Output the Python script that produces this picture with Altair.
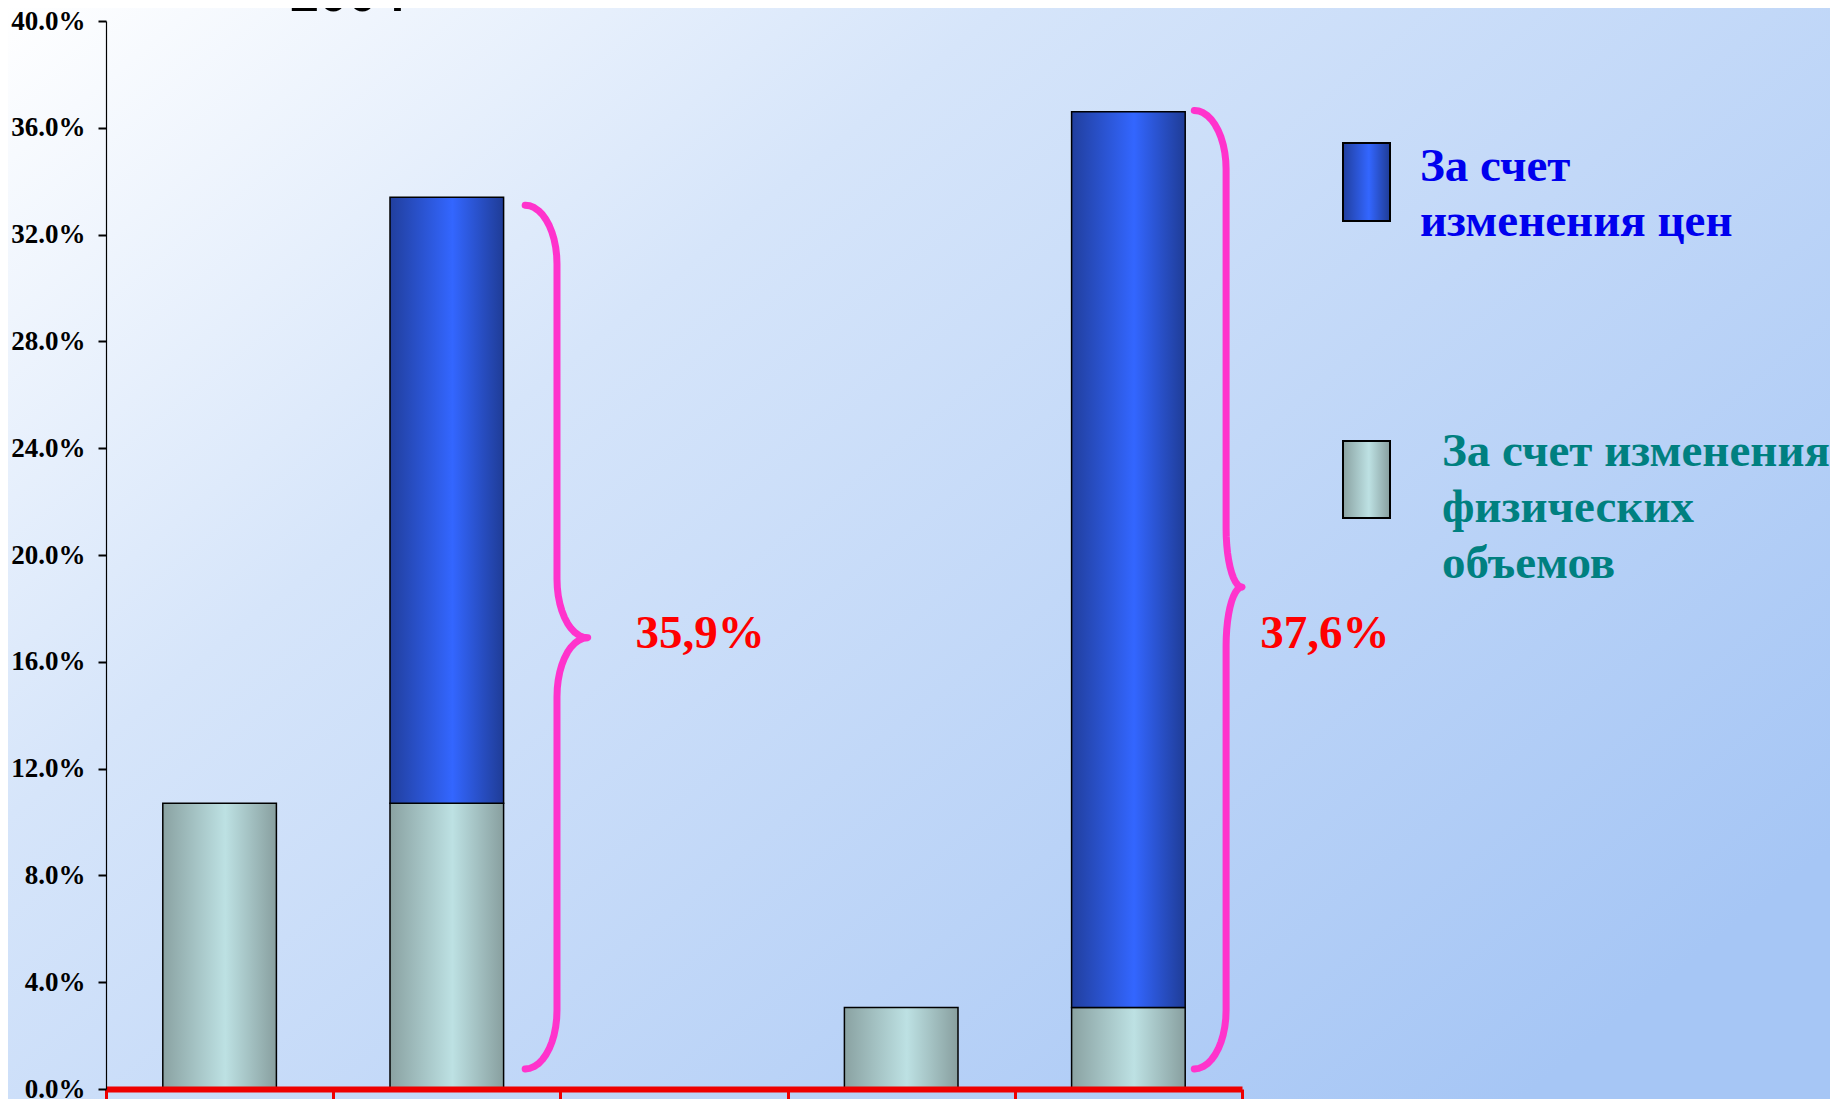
import altair as alt
import pandas as pd
import numpy as np

# ---- data ----
slots = [0, 1, 3, 4]                 # bar positions (slot 2 is empty)
physical = [10.7, 10.7, 3.05, 3.05]  # За счет изменения физических объемов
price_top = [None, 33.4, None, 36.6] # top of stacked bar (price part above physical)
y_ticks = [0, 4, 8, 12, 16, 20, 24, 28, 32, 36, 40]
x_ticks = [0, 1, 2, 3, 4, 5]

total_labels = ["35,9%", "37,6%"]
label_x = [2.33, 5.08]
label_y = [16.5, 16.5]

# braces: end x, vertical x, tip x, top, middle, bottom (data units)
brace_end = [1.845, 4.79]
brace_vert = [1.985, 4.93]
brace_tip = [2.12, 5.0]
brace_top = [33.1, 36.65]
brace_mid = [16.9, 18.8]
brace_bot = [0.75, 0.75]

legend_labels = [["За счет", "изменения цен"], ["За счет изменения", "физических", "объемов"]]
title_text = "2004"

W, H = 1136, 1068

green_grad = alt.LinearGradient(
    gradient="linear", x1=0, x2=1, y1=0, y2=0,
    stops=[alt.GradientStop(color="#8AA2A2", offset=0),
           alt.GradientStop(color="#BDE1E3", offset=0.55),
           alt.GradientStop(color="#889F9F", offset=1)])
blue_grad = alt.LinearGradient(
    gradient="linear", x1=0, x2=1, y1=0, y2=0,
    stops=[alt.GradientStop(color="#213F9E", offset=0),
           alt.GradientStop(color="#3366FF", offset=0.55),
           alt.GradientStop(color="#1F3C96", offset=1)])
bg_grad = alt.LinearGradient(
    gradient="linear", x1=0, x2=1, y1=0, y2=0.75,
    stops=[alt.GradientStop(color="#FFFFFF", offset=0),
           alt.GradientStop(color="#D6E5FA", offset=0.35),
           alt.GradientStop(color="#A6C6F5", offset=1)])

xscale = alt.Scale(domain=[0, 5], nice=False, zero=False)
yscale = alt.Scale(domain=[0, 40], nice=False)

bars_df = pd.DataFrame({"slot": slots, "phys": physical, "top": price_top})
bars_df["x0"] = bars_df["slot"] + 0.25
bars_df["x1"] = bars_df["slot"] + 0.75
bars_df["base"] = 0.0

# background
bg = alt.Chart(pd.DataFrame({"a": [0]})).mark_rect(color=bg_grad).encode(
    x=alt.value(-98), x2=alt.value(W + 600), y=alt.value(-20), y2=alt.value(H + 30))

x_axis = alt.Axis(values=x_ticks, labels=False, title=None, domainColor="#EE0000",
                  domainWidth=6, tickColor="#EE0000", tickWidth=3, tickSize=11,
                  grid=False, zindex=1)
y_axis = alt.Axis(values=y_ticks, title=None, grid=False, domainColor="#000000",
                  domainWidth=1.2, tickColor="#000000", tickWidth=2, tickSize=8,
                  labelExpr="format(datum.value, '.1f') + '%'",
                  labelFont="Liberation Serif", labelFontWeight="bold", labelFontSize=27,
                  labelColor="#000000", labelPadding=13, zindex=1)

green = alt.Chart(bars_df).mark_bar(color=green_grad, stroke="#000000", strokeWidth=1.5).encode(
    x=alt.X("x0:Q", scale=xscale, axis=x_axis),
    x2="x1:Q",
    y=alt.Y("base:Q", scale=yscale, axis=y_axis),
    y2="phys:Q")

blue = alt.Chart(bars_df.dropna()).mark_bar(color=blue_grad, stroke="#000000", strokeWidth=1.5).encode(
    x=alt.X("x0:Q", scale=xscale), x2="x1:Q",
    y=alt.Y("phys:Q", scale=yscale), y2="top:Q")

# braces
rows = []
ry = 2.2
for b in range(len(brace_end)):
    xe, xv, xt = brace_end[b], brace_vert[b], brace_tip[b]
    yt, ym, yb = brace_top[b], brace_mid[b], brace_bot[b]
    a = xv - xe
    c = xt - xv
    pts = []
    for t in np.linspace(0, np.pi / 2, 12):          # top hook
        pts.append((xe + a * np.sin(t), yt - ry + ry * np.cos(t)))
    for t in np.linspace(0, np.pi / 2, 12):          # into tip (upper half)
        pts.append((xt - c * np.cos(t), ym + ry - ry * np.sin(t)))
    for t in np.linspace(np.pi / 2, 0, 12):          # out of tip (lower half)
        pts.append((xt - c * np.cos(t), ym - ry + ry * np.sin(t)))
    for t in np.linspace(np.pi / 2, 0, 12):          # bottom hook
        pts.append((xe + a * np.sin(t), yb + ry - ry * np.cos(t)))
    for i, (px, py) in enumerate(pts):
        rows.append({"brace": b, "i": i, "bx": px, "by": py})
brace_df = pd.DataFrame(rows)

braces = alt.Chart(brace_df).mark_line(color="#FF33CC", strokeWidth=7, strokeCap="round",
                                       strokeJoin="round").encode(
    x=alt.X("bx:Q", scale=xscale), y=alt.Y("by:Q", scale=yscale),
    detail="brace:N", order="i:Q")

lab_df = pd.DataFrame({"t": total_labels, "lx": label_x, "ly": label_y})
labels = alt.Chart(lab_df).mark_text(align="left", baseline="alphabetic", color="#FF0000",
                                     font="Liberation Serif", fontWeight="bold", fontSize=47).encode(
    x=alt.X("lx:Q", scale=xscale), y=alt.Y("ly:Q", scale=yscale), text="t:N")

title = alt.Chart(pd.DataFrame({"t": [title_text], "tx": [1.065]})).mark_text(
    align="center", baseline="alphabetic", font="Liberation Sans", fontWeight="bold",
    fontSize=52, color="#000000").encode(
    x=alt.X("tx:Q", scale=xscale), y=alt.value(-10), text="t:N")

# legend
leg_blue = alt.Chart(pd.DataFrame({"k": ["price"]})).mark_rect(
    color=blue_grad, stroke="#000000", strokeWidth=2).encode(
    x=alt.value(1237), x2=alt.value(1284), y=alt.value(122), y2=alt.value(200))
leg_green = alt.Chart(pd.DataFrame({"k": ["phys"]})).mark_rect(
    color=green_grad, stroke="#000000", strokeWidth=2).encode(
    x=alt.value(1237), x2=alt.value(1284), y=alt.value(420), y2=alt.value(497))
leg_text1 = alt.Chart(pd.DataFrame({"t": [legend_labels[0]]})).mark_text(
    align="left", baseline="alphabetic", font="Liberation Serif", fontWeight="bold",
    fontSize=47, color="#0000EE", lineHeight=55).encode(
    x=alt.value(1314), y=alt.value(160), text="t")
leg_text2 = alt.Chart(pd.DataFrame({"t": [legend_labels[1]]})).mark_text(
    align="left", baseline="alphabetic", font="Liberation Serif", fontWeight="bold",
    fontSize=47, color="#008080", lineHeight=56).encode(
    x=alt.value(1336), y=alt.value(445), text="t")

chart = alt.layer(bg, green, blue, braces, labels, title,
                  leg_blue, leg_green, leg_text1, leg_text2).properties(
    width=W, height=H,
    autosize=alt.AutoSizeParams(type="none"),
    padding={"left": 98, "top": 13, "right": 588, "bottom": 10},
).configure_view(stroke=None).configure(background="#C8DCF8")

chart.save("out.html", embed_options={"renderer": "svg", "actions": False})
